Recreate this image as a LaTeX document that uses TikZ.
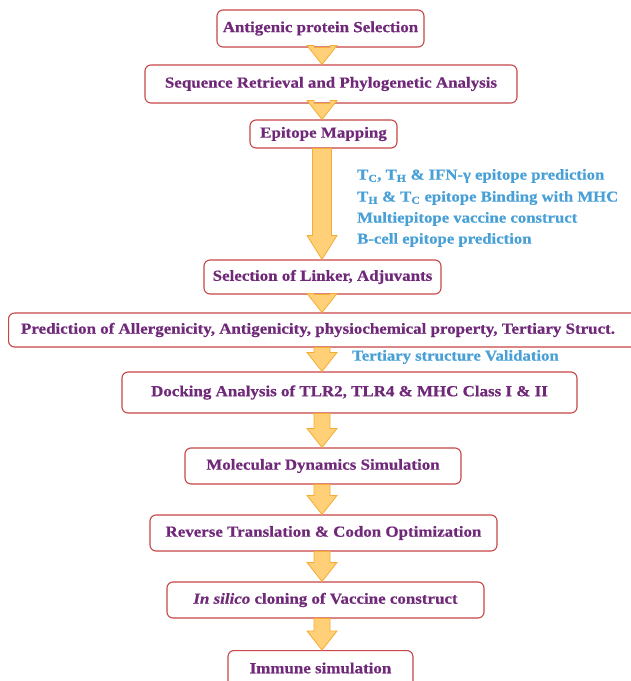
\documentclass[tikz,border=0pt]{standalone}
\usepackage{fontspec}
\setmainfont{Liberation Serif}[FakeStretch=1.1, BoldFeatures={FakeBold=0.5}, BoldItalicFeatures={FakeBold=0.5}]
\usetikzlibrary{calc}
\definecolor{boxred}{RGB}{200,70,70}
\definecolor{txtpurple}{RGB}{112,40,120}
\definecolor{txtblue}{RGB}{72,160,215}
\definecolor{arrfill}{RGB}{255,208,120}
\definecolor{arrdraw}{RGB}{245,172,50}
\tikzset{
  stepbox/.style={draw=boxred, line width=1.1pt, rounded corners=6pt, fill=white,
    text=txtpurple, font=\fontsize{15.4}{17}\selectfont\bfseries, inner sep=0pt, align=center},
  bluetxt/.style={text=txtblue, font=\fontsize{15.2}{17}\selectfont\bfseries, anchor=west, inner sep=0pt},
  fatarrow/.style={fill=arrfill, draw=arrdraw, line width=0.8pt, line join=miter}
}
\newcommand\blockarrow[4]{%
  \path (#1.south -| ax) coordinate (bp1) (#2.north -| ax) coordinate (bp2);
  \draw[fatarrow] let \p1=(bp1), \p2=(bp2) in
    (\x1-#3,\y1) -- (\x1+#3,\y1) -- (\x1+#3,\y2+#4) -- (\x1+15pt,\y2+#4) -- (\x2,\y2)
    -- (\x1-15pt,\y2+#4) -- (\x1-#3,\y2+#4) -- cycle;
}
\begin{document}
\begin{tikzpicture}[x=1pt,y=-1pt]
\useasboundingbox[fill=white] (0,0) rectangle (631,681);
\coordinate (ax) at (322,0);
\node[stepbox, minimum width=207pt, minimum height=37pt] (n1) at (320.5,28.5) {Antigenic protein Selection};
\node[stepbox, minimum width=372pt, minimum height=38pt] (n2) at (331,84) {Sequence Retrieval and Phylogenetic Analysis};
\node[stepbox, minimum width=147pt, minimum height=28pt] (n3) at (323.5,134) {Epitope Mapping};
\node[stepbox, minimum width=237pt, minimum height=34pt] (n4) at (322.5,277) {Selection of Linker, Adjuvants};
\node[stepbox, minimum width=630pt, minimum height=34pt, anchor=west] (n5) at (8,330) {};
\node[text=txtpurple, font=\fontsize{15.4}{17}\selectfont\bfseries, inner sep=0pt] (n5t) at (318,330) {Prediction of Allergenicity, Antigenicity, physiochemical property, Tertiary Struct.};
\node[stepbox, minimum width=455pt, minimum height=41pt] (n6) at (349.5,392.5) {Docking Analysis of TLR2, TLR4 \& MHC Class I \& II};
\node[stepbox, minimum width=276pt, minimum height=36pt] (n7) at (323,466) {Molecular Dynamics Simulation};
\node[stepbox, minimum width=347pt, minimum height=36pt] (n8) at (323.5,533) {Reverse Translation \& Codon Optimization};
\node[stepbox, minimum width=317pt, minimum height=36pt] (n9) at (325.5,600) {\textit{In silico} cloning of Vaccine construct};
\node[stepbox, minimum width=185pt, minimum height=40pt, anchor=north] (n10) at (320.5,650) {};
\node[text=txtpurple, font=\fontsize{15.4}{17}\selectfont\bfseries, inner sep=0pt] (n10t) at (320.5,668) {Immune simulation};
\blockarrow{n1}{n2}{8pt}{19pt}
\blockarrow{n2}{n3}{8pt}{19pt}
\blockarrow{n3}{n4}{9.5pt}{24pt}
\blockarrow{n4}{n5}{8pt}{19pt}
\blockarrow{n5}{n6}{8pt}{19pt}
\blockarrow{n6}{n7}{8pt}{19pt}
\blockarrow{n7}{n8}{8pt}{19pt}
\blockarrow{n8}{n9}{8pt}{19pt}
\blockarrow{n9}{n10}{8pt}{19pt}
\node[bluetxt] (b1) at (357,176) {T\textsubscript{C}, T\textsubscript{H} \& IFN-γ epitope prediction};
\node[bluetxt] (b2) at (357,198) {T\textsubscript{H} \& T\textsubscript{C} epitope Binding with MHC};
\node[bluetxt] (b3) at (357,219) {Multiepitope vaccine construct};
\node[bluetxt] (b4) at (357,240) {B-cell epitope prediction};
\node[bluetxt] (b5) at (352,357) {Tertiary structure Validation};
\end{tikzpicture}
\end{document}
